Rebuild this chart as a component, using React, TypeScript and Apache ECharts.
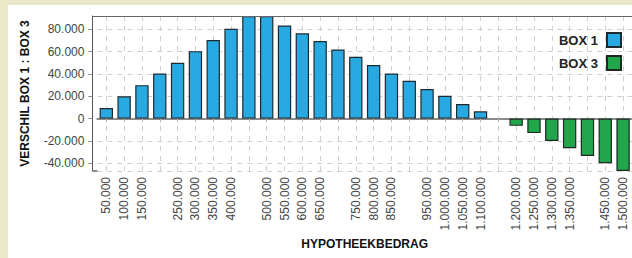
import React, { useEffect, useRef } from "react";
import * as echarts from "echarts";

const categories = [
  "50.000", "100.000", "150.000", "200.000", "250.000", "300.000", "350.000", "400.000",
  "450.000", "500.000", "550.000", "600.000", "650.000", "700.000", "750.000", "800.000",
  "850.000", "900.000", "950.000", "1.000.000", "1.050.000", "1.100.000", "1.150.000",
  "1.200.000", "1.250.000", "1.300.000", "1.350.000", "1.400.000", "1.450.000", "1.500.000",
];

const hiddenLabels = ["200.000", "450.000", "700.000", "900.000", "1.150.000", "1.400.000"];

const box1 = [
  9500, 20000, 30000, 40500, 50000, 60500, 70500, 80500, 92000, 92000, 83500, 76500,
  69500, 62000, 55500, 48000, 40500, 34000, 26500, 20500, 13000, 6500,
  null, null, null, null, null, null, null, null,
];

const box3 = [
  null, null, null, null, null, null, null, null, null, null, null, null,
  null, null, null, null, null, null, null, null, null, null, null,
  -6500, -13000, -20000, -26500, -33500, -40000, -47000,
];

const yMin = -47000;
const yMax = 92000;

const FONT = "'Liberation Sans', Arial, Helvetica, sans-serif";

function fmt(v: number): string {
  const neg = v < 0;
  const s = Math.round(Math.abs(v)).toString();
  const parts: string[] = [];
  for (let i = s.length; i > 0; i -= 3) parts.unshift(s.substring(Math.max(0, i - 3), i));
  return (neg ? "-" : "") + parts.join(".");
}

export default function App() {
  const ref = useRef<HTMLDivElement>(null);
  useEffect(() => {
    document.body.style.margin = "0";
    if (!ref.current) return;
    const chart = echarts.init(ref.current, null, { renderer: "svg" });
    const gridLeft = 89.4;
    const gridTop = 11;
    const gridH = 155;
    const axisX = gridLeft - 5;
    chart.setOption({
      animation: false,
      textStyle: { fontFamily: FONT },
      grid: { left: gridLeft, top: gridTop, width: 535.8, height: gridH, containLabel: false },
      legend: {
        data: ["BOX 1", "BOX 3"],
        orient: "vertical",
        right: 5,
        top: 22,
        align: "right",
        icon: "rect",
        itemWidth: 14,
        itemHeight: 14,
        itemGap: 7,
        textStyle: {
          fontFamily: FONT,
          fontWeight: "bold",
          fontSize: 13,
          color: "#222",
          padding: [0, 4, 0, 0],
        },
      },
      xAxis: {
        type: "category",
        data: categories,
        boundaryGap: true,
        name: "HYPOTHEEKBEDRAG",
        nameLocation: "middle",
        nameGap: 66,
        nameTextStyle: { fontFamily: FONT, fontWeight: "bold", fontSize: 12, color: "#111" },
        axisLine: { show: true, lineStyle: { color: "#8a8a8a", width: 2 } },
        axisTick: { show: true, interval: 0, alignWithLabel: true, length: 4, lineStyle: { color: "#bbb" } },
        axisLabel: {
          rotate: 90,
          margin: 6,
          fontSize: 12,
          color: "#444",
          fontFamily: FONT,
          interval: (_i: number, v: string) => hiddenLabels.indexOf(v) < 0,
        },
        splitLine: {
          show: true,
          interval: 0,
          alignWithLabel: true,
          lineStyle: { color: "#cfcfcf", type: [5, 5], width: 1 },
        },
      },
      yAxis: {
        type: "value",
        min: yMin,
        max: yMax,
        splitNumber: 7,
        offset: 5,
        name: "VERSCHIL BOX 1 : BOX 3",
        nameLocation: "middle",
        nameRotate: 90,
        nameGap: 61,
        nameTextStyle: { fontFamily: FONT, fontWeight: "bold", fontSize: 12, color: "#111" },
        axisLine: { show: true, lineStyle: { color: "#555", width: 1 } },
        axisTick: { show: true, length: 4, lineStyle: { color: "#888" } },
        axisLabel: {
          margin: 8,
          fontSize: 12,
          color: "#444",
          fontFamily: FONT,
          showMinLabel: false,
          showMaxLabel: false,
          formatter: (v: number) => fmt(v),
        },
        splitLine: { show: true, lineStyle: { color: "#cfcfcf", type: [5, 5], width: 1 } },
      },
      graphic: [
        {
          type: "line",
          shape: { x1: axisX, y1: gridTop + 0.5, x2: 640, y2: gridTop + 0.5 },
          style: { stroke: "#666", lineWidth: 1 },
          z: 10,
        },
        {
          type: "line",
          shape: { x1: axisX, y1: gridTop + gridH, x2: gridLeft, y2: gridTop + gridH },
          style: { stroke: "#8a8a8a", lineWidth: 2 },
          z: 10,
        },
      ],
      series: [
        {
          name: "BOX 1",
          type: "bar",
          data: box1,
          barWidth: "75%",
          barGap: "-100%",
          itemStyle: { color: "#29a9e1", borderColor: "#1f2a30", borderWidth: 1.2 },
        },
        {
          name: "BOX 3",
          type: "bar",
          data: box3,
          barWidth: "75%",
          barGap: "-100%",
          itemStyle: { color: "#21a64b", borderColor: "#1c2a20", borderWidth: 1.2 },
        },
      ],
    });
    return () => chart.dispose();
  }, []);
  return (
    <div style={{ position: "relative", width: 632, height: 258, background: "#ebe7c9", overflow: "hidden" }}>
      <div
        ref={ref}
        style={{ position: "absolute", left: 8, top: 5, width: 624, height: 253, background: "#ffffff" }}
      />
    </div>
  );
}
